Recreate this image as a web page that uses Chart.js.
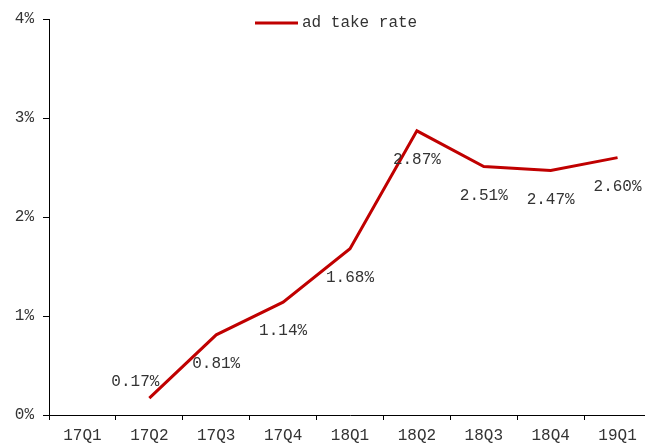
<!DOCTYPE html>
<html>
<head>
<meta charset="utf-8">
<script src="https://cdn.jsdelivr.net/npm/chart.js@4/dist/chart.umd.min.js"></script>
<style>
html,body{margin:0;padding:0;background:#fff;overflow:hidden;width:645px;height:443px;}
#wrap{position:absolute;left:0;top:0;width:651px;height:452px;}
</style>
</head>
<body>
<div id="wrap"><canvas id="c" width="651" height="452"></canvas></div>
<script>
const categories = ['17Q1','17Q2','17Q3','17Q4','18Q1','18Q2','18Q3','18Q4','19Q1'];
const adTakeRate = [null, 0.17, 0.81, 1.14, 1.68, 2.87, 2.51, 2.47, 2.60];
const seriesName = 'ad take rate';
const yTicks = [0, 1, 2, 3, 4];

const FONT = '"Liberation Mono", "DejaVu Sans Mono", monospace';
const TEXT = '#333333';
const RED = '#C00000';

const labelPlugin = {
  id: 'labelsAndLegend',
  afterDatasetsDraw(chart) {
    const ctx = chart.ctx;
    const meta = chart.getDatasetMeta(0);
    ctx.save();
    ctx.font = '16px ' + FONT;
    ctx.fillStyle = TEXT;
    ctx.textAlign = 'center';
    ctx.textBaseline = 'middle';
    meta.data.forEach((pt, i) => {
      const v = adTakeRate[i];
      if (v === null || v === undefined) return;
      let dx = 0, dy = 29;
      if (i === 1) { dx = -14; dy = -16; }
      ctx.fillText(v.toFixed(2) + '%', pt.x + dx, pt.y + dy);
    });
    // legend
    ctx.strokeStyle = RED;
    ctx.lineWidth = 3;
    ctx.beginPath();
    ctx.moveTo(255, 23);
    ctx.lineTo(298, 23);
    ctx.stroke();
    ctx.textAlign = 'left';
    ctx.fillText(seriesName, 302, 23);
    ctx.restore();
  }
};

new Chart(document.getElementById('c'), {
  type: 'line',
  data: {
    labels: categories,
    datasets: [{
      label: seriesName,
      data: adTakeRate,
      borderColor: RED,
      backgroundColor: RED,
      borderWidth: 3,
      pointRadius: 0,
      tension: 0,
      spanGaps: false
    }]
  },
  options: {
    responsive: false,
    animation: false,
    devicePixelRatio: 1,
    layout: { padding: { top: 19, left: 0, right: 0, bottom: 0 } },
    plugins: { legend: { display: false }, tooltip: { enabled: false } },
    scales: {
      x: {
        offset: true,
        grid: { display: true, drawOnChartArea: false, offset: true, tickLength: 5, color: '#000', lineWidth: 1 },
        border: { display: true, color: '#000', width: 1 },
        ticks: { color: TEXT, font: { family: FONT, size: 16 }, padding: 6, maxRotation: 0, autoSkip: false },
        afterFit(s) { s.height = 37; }
      },
      y: {
        min: 0, max: 4,
        afterBuildTicks(s) { s.ticks = yTicks.map(v => ({ value: v })); },
        grid: { display: true, drawOnChartArea: false, tickLength: 6, color: '#000', lineWidth: 1 },
        border: { display: true, color: '#000', width: 1 },
        ticks: { color: TEXT, font: { family: FONT, size: 16 }, padding: 9, callback: v => v + '%' },
        afterFit(s) { s.width = 49; }
      }
    }
  },
  plugins: [labelPlugin]
});
</script>
</body>
</html>
